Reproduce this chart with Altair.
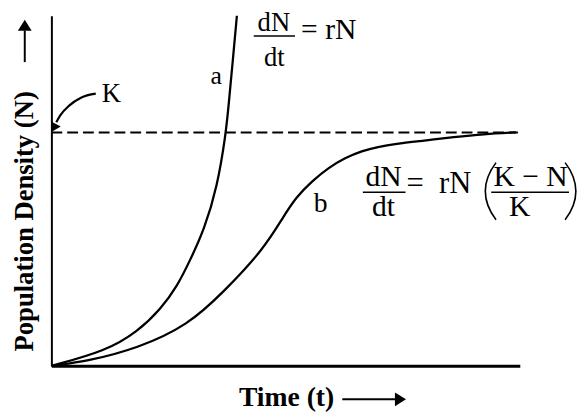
import altair as alt
import pandas as pd

# ---- data ----
# curve a : exponential growth (J-shaped)
time_a = [0, 11.6, 18.5, 23.4, 26.9, 29.7, 32.6, 35.4, 37.3, 37.9, 38.7, 39.6]
dens_a = [0, 6.3, 14.8, 24.5, 34.2, 45.6, 58.3, 76.5, 100.1, 113.2, 130.1, 150]
# curve b : logistic growth (S-shaped)
time_b = [0, 8, 18.5, 29.1, 36.8, 45.3, 49.5, 52.2, 55.8, 59.2, 62.7, 66.3,
          69.7, 73.3, 79.6, 85.9, 92.2, 99.2]
dens_b = [0, 2.1, 7.6, 17.3, 31.7, 49.9, 63.8, 72.2, 79.4, 84.9, 89.1, 92.1,
          93.8, 95.1, 96.5, 98.0, 99.3, 100]
K = 100            # carrying capacity
T_END = 99.6       # end of K line
T_MAX = 100
N_MAX = 150
# K annotation arrow path (data units)
arrow_t = [9.47, 6.32, 3.79, 1.89, 1.05]
arrow_n = [116.6, 114.9, 111.5, 107.3, 104.4]

FONT = "Liberation Serif"
ARROW = "M0,-0.8L1,0.8L-1,0.8Z"
LPAREN = "M0.2,-1Q-0.55,0 0.2,1"
RPAREN = "M-0.2,-1Q0.55,0 -0.2,1"

curves = pd.DataFrame({
    "t": time_a + time_b,
    "n": dens_a + dens_b,
    "curve": ["a"] * len(time_a) + ["b"] * len(time_b),
})

xscale = alt.Scale(domain=[0, T_MAX], nice=False, zero=False)
yscale = alt.Scale(domain=[0, N_MAX], nice=False, zero=False)

x_axis = alt.Axis(domainColor="black", domainWidth=3, ticks=False, labels=False,
                  grid=False, title="Time (t)", titleFont=FONT, titleFontSize=28,
                  titleFontWeight="bold", titleColor="black", titleX=238, titleY=40,
                  titleAlign="center", titleBaseline="alphabetic")
y_axis = alt.Axis(domainColor="black", domainWidth=2, ticks=False, labels=False,
                  grid=False, title="Population Density (N)", titleFont=FONT,
                  titleFontSize=27, titleFontWeight="bold", titleColor="black",
                  titleAngle=270, titleX=-27, titleY=208, titleAlign="center",
                  titleBaseline="middle")

lines = alt.Chart(curves).mark_line(color="black", strokeWidth=2.3,
                                    interpolate="basis").encode(
    x=alt.X("t:Q", scale=xscale, axis=x_axis),
    y=alt.Y("n:Q", scale=yscale, axis=y_axis),
    detail="curve:N",
)

one = alt.Data(values=[{}])

k_line = alt.Chart(pd.DataFrame({"k": [K]})).mark_rule(
    color="black", strokeWidth=2, strokeDash=[11, 5]).encode(
    y=alt.Y("k:Q", scale=yscale),
    x=alt.datum(0), x2=alt.datum(T_END),
)

k_arrow = alt.Chart(pd.DataFrame({"t": arrow_t, "n": arrow_n})).mark_line(
    color="black", strokeWidth=2.2, interpolate="monotone").encode(
    x=alt.X("t:Q", scale=xscale), y=alt.Y("n:Q", scale=yscale), order=alt.Order("t:Q"))
k_head = alt.Chart(one).mark_point(shape=ARROW, size=110, filled=True, color="black",
                                   opacity=1, angle=208, strokeWidth=0).encode(
    x=alt.datum(0.61), y=alt.datum(102.0))


def label(txt, t, n, size, align="center"):
    return alt.Chart(one).mark_text(text=txt, font=FONT, fontSize=size, align=align,
                                    baseline="alphabetic", color="black").encode(
        x=alt.datum(t), y=alt.datum(n))


def bar(t1, t2, n):
    return alt.Chart(one).mark_rule(color="black", strokeWidth=1.6).encode(
        x=alt.datum(t1), x2=alt.datum(t2), y=alt.datum(n))


def paren(shape, t, n):
    return alt.Chart(one).mark_point(shape=shape, size=3364, filled=False, color="black",
                                     opacity=1, strokeWidth=1.6).encode(
        x=alt.datum(t), y=alt.datum(n))


texts = [
    label("a", 35.2, 120.8, 26),
    label("b", 57.5, 65.9, 28),
    label("K", 12.8, 113.2, 27),
    # dN/dt = rN
    label("dN", 47.5, 143.3, 27), bar(43.2, 52.0, 141.3), label("dt", 47.6, 128.6, 27),
    label("= rN", 53.3, 139.9, 30, "left"),
    # dN/dt = rN ((K-N)/K)
    label("dN", 70.9, 77.0, 30), bar(66.5, 75.6, 74.4), label("dt", 70.9, 64.2, 30),
    label("=\u2002rN", 75.8, 73.9, 31, "left"),
    paren(LPAREN, 93.7, 74.8), paren(RPAREN, 110.9, 74.8),
    label("K \u2212 N", 102.3, 77.0, 30), bar(93.9, 110.5, 74.4), label("K", 100.0, 64.2, 30),
]

# arrows next to the axis titles (pixel positions)
y_arrow = alt.Chart(one).mark_rule(color="black", strokeWidth=2).encode(
    x=alt.value(-27), y=alt.value(15), y2=alt.value(47))
y_head = alt.Chart(one).mark_point(shape=ARROW, size=196, filled=True, color="black",
                                   opacity=1, strokeWidth=0).encode(
    x=alt.value(-27), y=alt.value(9.6))
x_arrow = alt.Chart(one).mark_rule(color="black", strokeWidth=2).encode(
    x=alt.value(295), x2=alt.value(350), y=alt.value(389))
x_head = alt.Chart(one).mark_point(shape=ARROW, size=196, filled=True, color="black",
                                   opacity=1, angle=90, strokeWidth=0).encode(
    x=alt.value(354), y=alt.value(389))

chart = alt.layer(lines, k_line, k_arrow, k_head, *texts,
                  y_arrow, y_head, x_arrow, x_head).properties(
    width=475, height=355,
    autosize=alt.AutoSizeParams(type="none"),
    padding={"left": 44, "top": 5, "right": 58, "bottom": 45},
    background="white",
).configure_view(stroke=None)

chart.save("out.html", embed_options={"renderer": "svg", "actions": False})
